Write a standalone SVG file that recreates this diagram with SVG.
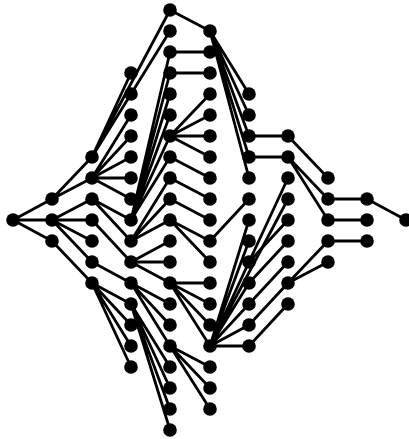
<svg xmlns="http://www.w3.org/2000/svg" width="409" height="439" viewBox="0 0 409 439">
<style>
.n{fill:#000}
.e{stroke:#000;stroke-width:2.8;fill:none;stroke-linecap:round}
</style>
<rect width="409" height="439" fill="#fff"/>
<g id="connectors" class="e">
<path d="M13,220L52,199M13,220L52,220M13,220L52,241"/>
<path d="M52,199L92,157M52,199L92,178M52,220L92,199M52,220L92,220M52,220L92,241M52,220L92,262M52,241L92,283"/>
<path d="M92,157L131,73M92,157L131,94M92,157L170,10M92,157L170,31"/>
<path d="M92,178L131,115M92,178L131,136M92,178L131,157M92,178L131,178M92,178L131,199"/>
<path d="M92,199L131,220M92,199L131,241M92,220L131,262M92,262L131,283"/>
<path d="M92,283L131,304M92,283L131,325M92,283L131,346M92,283L131,367"/>
<path d="M131,220L170,52M131,220L170,73M131,220L170,94M131,220L170,115M131,220L170,136M131,220L170,157"/>
<path d="M131,241L170,178M131,241L170,199M131,241L170,220"/>
<path d="M131,262L170,241M131,262L170,262M131,262L170,283"/>
<path d="M131,283L170,304M131,283L170,325M131,283L170,346"/>
<path d="M131,304L170,367M131,304L170,388M131,304L170,409M131,304L170,430"/>
<path d="M170,10L210,31M170,52L210,52M170,73L210,73"/>
<path d="M170,136L210,94M170,136L210,115M170,136L210,136M170,136L210,157"/>
<path d="M170,157L210,178M170,178L210,199M170,199L210,220M170,220L210,241M170,220L210,262"/>
<path d="M170,283L210,283M170,283L210,304M170,283L210,325M170,283L210,346"/>
<path d="M170,346L210,367M170,346L210,388M170,346L210,409"/>
<path d="M210,31L249,94M210,31L249,115M210,31L249,136M210,31L249,157M210,31L249,178"/>
<path d="M210,241L249,199"/>
<path d="M210,346L249,220M210,346L249,241M210,346L249,262M210,346L249,283M210,346L249,304M210,346L249,325M210,346L249,346M210,346L288,178M210,346L288,199"/>
<path d="M249,136L288,136M249,157L288,157"/>
<path d="M249,262L288,220M249,283L288,241M249,304L288,262M249,325L288,283M249,346L288,304"/>
<path d="M288,136L328,178M288,157L328,199M288,157L328,220M288,283L328,241M288,283L328,262"/>
<path d="M328,199L367,199M328,220L367,220M328,241L367,241M367,199L406,220"/>
</g>
<g id="nodes" class="n">
<circle id="n0_10" cx="13" cy="220" r="6.8"/>
<circle cx="52" cy="199" r="6.8"/><circle cx="52" cy="220" r="6.8"/><circle cx="52" cy="241" r="6.8"/>
<circle cx="92" cy="157" r="6.8"/><circle cx="92" cy="178" r="6.8"/><circle cx="92" cy="199" r="6.8"/><circle cx="92" cy="220" r="6.8"/><circle cx="92" cy="241" r="6.8"/><circle cx="92" cy="262" r="6.8"/><circle cx="92" cy="283" r="6.8"/>
<circle cx="131" cy="73" r="6.8"/><circle cx="131" cy="94" r="6.8"/><circle cx="131" cy="115" r="6.8"/><circle cx="131" cy="136" r="6.8"/><circle cx="131" cy="157" r="6.8"/><circle cx="131" cy="178" r="6.8"/><circle cx="131" cy="199" r="6.8"/><circle cx="131" cy="220" r="6.8"/><circle cx="131" cy="241" r="6.8"/><circle cx="131" cy="262" r="6.8"/><circle cx="131" cy="283" r="6.8"/><circle cx="131" cy="304" r="6.8"/><circle cx="131" cy="325" r="6.8"/><circle cx="131" cy="346" r="6.8"/><circle cx="131" cy="367" r="6.8"/>
<circle cx="170" cy="10" r="6.8"/><circle cx="170" cy="31" r="6.8"/><circle cx="170" cy="52" r="6.8"/><circle cx="170" cy="73" r="6.8"/><circle cx="170" cy="94" r="6.8"/><circle cx="170" cy="115" r="6.8"/><circle cx="170" cy="136" r="6.8"/><circle cx="170" cy="157" r="6.8"/><circle cx="170" cy="178" r="6.8"/><circle cx="170" cy="199" r="6.8"/><circle cx="170" cy="220" r="6.8"/><circle cx="170" cy="241" r="6.8"/><circle cx="170" cy="262" r="6.8"/><circle cx="170" cy="283" r="6.8"/><circle cx="170" cy="304" r="6.8"/><circle cx="170" cy="325" r="6.8"/><circle cx="170" cy="346" r="6.8"/><circle cx="170" cy="367" r="6.8"/><circle cx="170" cy="388" r="6.8"/><circle cx="170" cy="409" r="6.8"/><circle cx="170" cy="430" r="6.8"/>
<circle cx="210" cy="31" r="6.8"/><circle cx="210" cy="52" r="6.8"/><circle cx="210" cy="73" r="6.8"/><circle cx="210" cy="94" r="6.8"/><circle cx="210" cy="115" r="6.8"/><circle cx="210" cy="136" r="6.8"/><circle cx="210" cy="157" r="6.8"/><circle cx="210" cy="178" r="6.8"/><circle cx="210" cy="199" r="6.8"/><circle cx="210" cy="220" r="6.8"/><circle cx="210" cy="241" r="6.8"/><circle cx="210" cy="262" r="6.8"/><circle cx="210" cy="283" r="6.8"/><circle cx="210" cy="304" r="6.8"/><circle cx="210" cy="325" r="6.8"/><circle cx="210" cy="346" r="6.8"/><circle cx="210" cy="367" r="6.8"/><circle cx="210" cy="388" r="6.8"/><circle cx="210" cy="409" r="6.8"/>
<circle cx="249" cy="94" r="6.8"/><circle cx="249" cy="115" r="6.8"/><circle cx="249" cy="136" r="6.8"/><circle cx="249" cy="157" r="6.8"/><circle cx="249" cy="178" r="6.8"/><circle cx="249" cy="199" r="6.8"/><circle cx="249" cy="220" r="6.8"/><circle cx="249" cy="241" r="6.8"/><circle cx="249" cy="262" r="6.8"/><circle cx="249" cy="283" r="6.8"/><circle cx="249" cy="304" r="6.8"/><circle cx="249" cy="325" r="6.8"/><circle cx="249" cy="346" r="6.8"/>
<circle cx="288" cy="136" r="6.8"/><circle cx="288" cy="157" r="6.8"/><circle cx="288" cy="178" r="6.8"/><circle cx="288" cy="199" r="6.8"/><circle cx="288" cy="220" r="6.8"/><circle cx="288" cy="241" r="6.8"/><circle cx="288" cy="262" r="6.8"/><circle cx="288" cy="283" r="6.8"/><circle cx="288" cy="304" r="6.8"/>
<circle cx="328" cy="178" r="6.8"/><circle cx="328" cy="199" r="6.8"/><circle cx="328" cy="220" r="6.8"/><circle cx="328" cy="241" r="6.8"/><circle cx="328" cy="262" r="6.8"/>
<circle cx="367" cy="199" r="6.8"/><circle cx="367" cy="220" r="6.8"/><circle cx="367" cy="241" r="6.8"/>
<circle cx="406" cy="220" r="6.8"/>
</g>
</svg>
